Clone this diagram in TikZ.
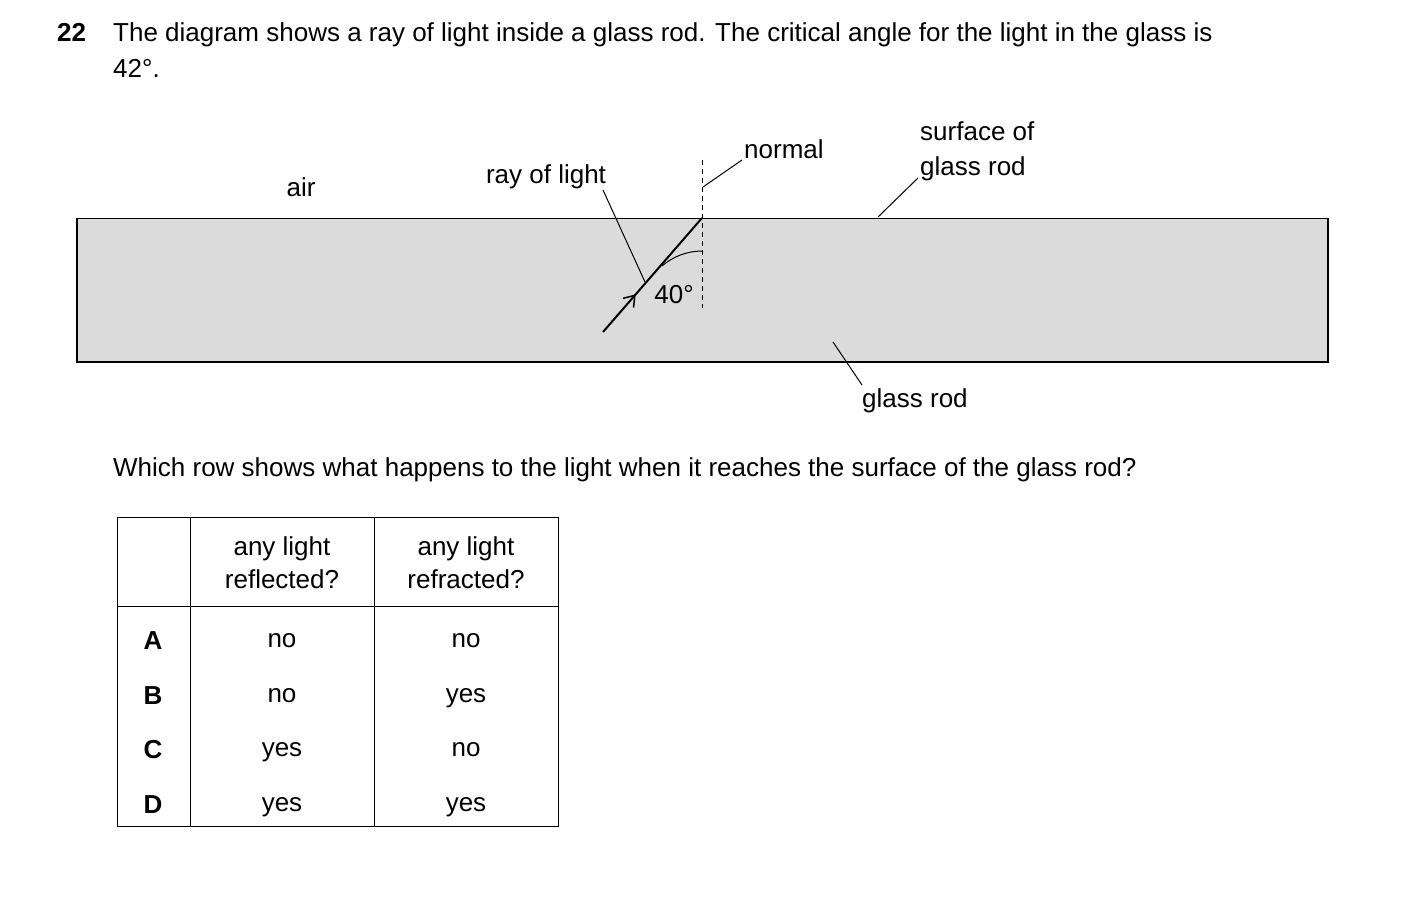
\documentclass[tikz,border=0pt]{standalone}
\usepackage{fontspec}
\setmainfont{Liberation Sans}
\usetikzlibrary{arrows.meta,decorations.markings}
\begin{document}
\begin{tikzpicture}[x=1pt,y=-1pt,
  txt/.style={inner sep=0pt,font=\fontsize{26}{31}\selectfont},
  lead/.style={line width=1pt},
  cell/.style={inner sep=0pt,font=\fontsize{26}{33}\selectfont,align=center}]
\useasboundingbox (0,0) rectangle (1403,920);
\node[txt,anchor=base west] (q) at (57,42) {\textbf{22}};
\node[txt,anchor=base west] (l1) at (113,42) {The diagram shows a ray of light inside a glass rod. The critical angle for the light in the glass is};
\node[txt,anchor=base west] (l2) at (113,78) {42°.};
\node[draw,line width=1.5pt,fill=black!14,minimum width=1251pt,minimum height=143pt,anchor=north west,inner sep=0pt] (rod) at (76,218) {};
\coordinate (P) at (702,218);
\coordinate (S) at (603,332);
\draw[dash pattern=on 5pt off 4pt,line width=1pt] (702,160) -- (702,308);
\draw[line width=1pt] (662,266) arc[start angle=229, end angle=270, radius=61];
\draw[line width=2pt,postaction={decorate},decoration={markings,mark=at position 0.33 with {\arrow[line width=1.5pt]{Straight Barb[length=10pt,width=14pt]}}}] (S) -- (P);
\node[txt,anchor=base] (ang) at (674,303) {40°};
\node[txt,anchor=base] (air) at (301,197) {air};
\node[txt,anchor=base] (ray) at (546,184) {ray of light};
\draw[lead] (603,190) -- (645,282);
\node[txt,anchor=base west] (nor) at (744,159) {normal};
\draw[lead] (703,187) -- (742,160);
\node[txt,anchor=base west,align=left] (surf) at (920,141) {surface of};
\node[txt,anchor=base west] (surf2) at (920,176) {glass rod};
\draw[lead] (878,217) -- (918,178);
\node[txt,anchor=base west] (gr) at (862,407) {glass rod};
\draw[lead] (833,342) -- (862,385);
\node[txt,anchor=base west] (wq) at (113,476) {Which row shows what happens to the light when it reaches the surface of the glass rod?};
\draw[line width=1pt] (117,517) rectangle (558,826);
\draw[line width=1pt] (190,517) -- (190,826) (374,517) -- (374,826) (117,606) -- (558,606);
\node[cell] (h1) at (282,563) {any light\\reflected?};
\node[cell] (h2) at (466,563) {any light\\refracted?};
\foreach \r/\y/\a/\b in {A/641/no/no,B/696/no/yes,C/750/yes/no,D/805/yes/yes}{
  \node[cell,font=\fontsize{26}{31}\selectfont\bfseries] (r\r) at (153,\y) {\r};
  \node[cell] (a\r) at (282,\y) {\strut\a};
  \node[cell] (b\r) at (466,\y) {\strut\b};
}
\end{tikzpicture}
\end{document}
